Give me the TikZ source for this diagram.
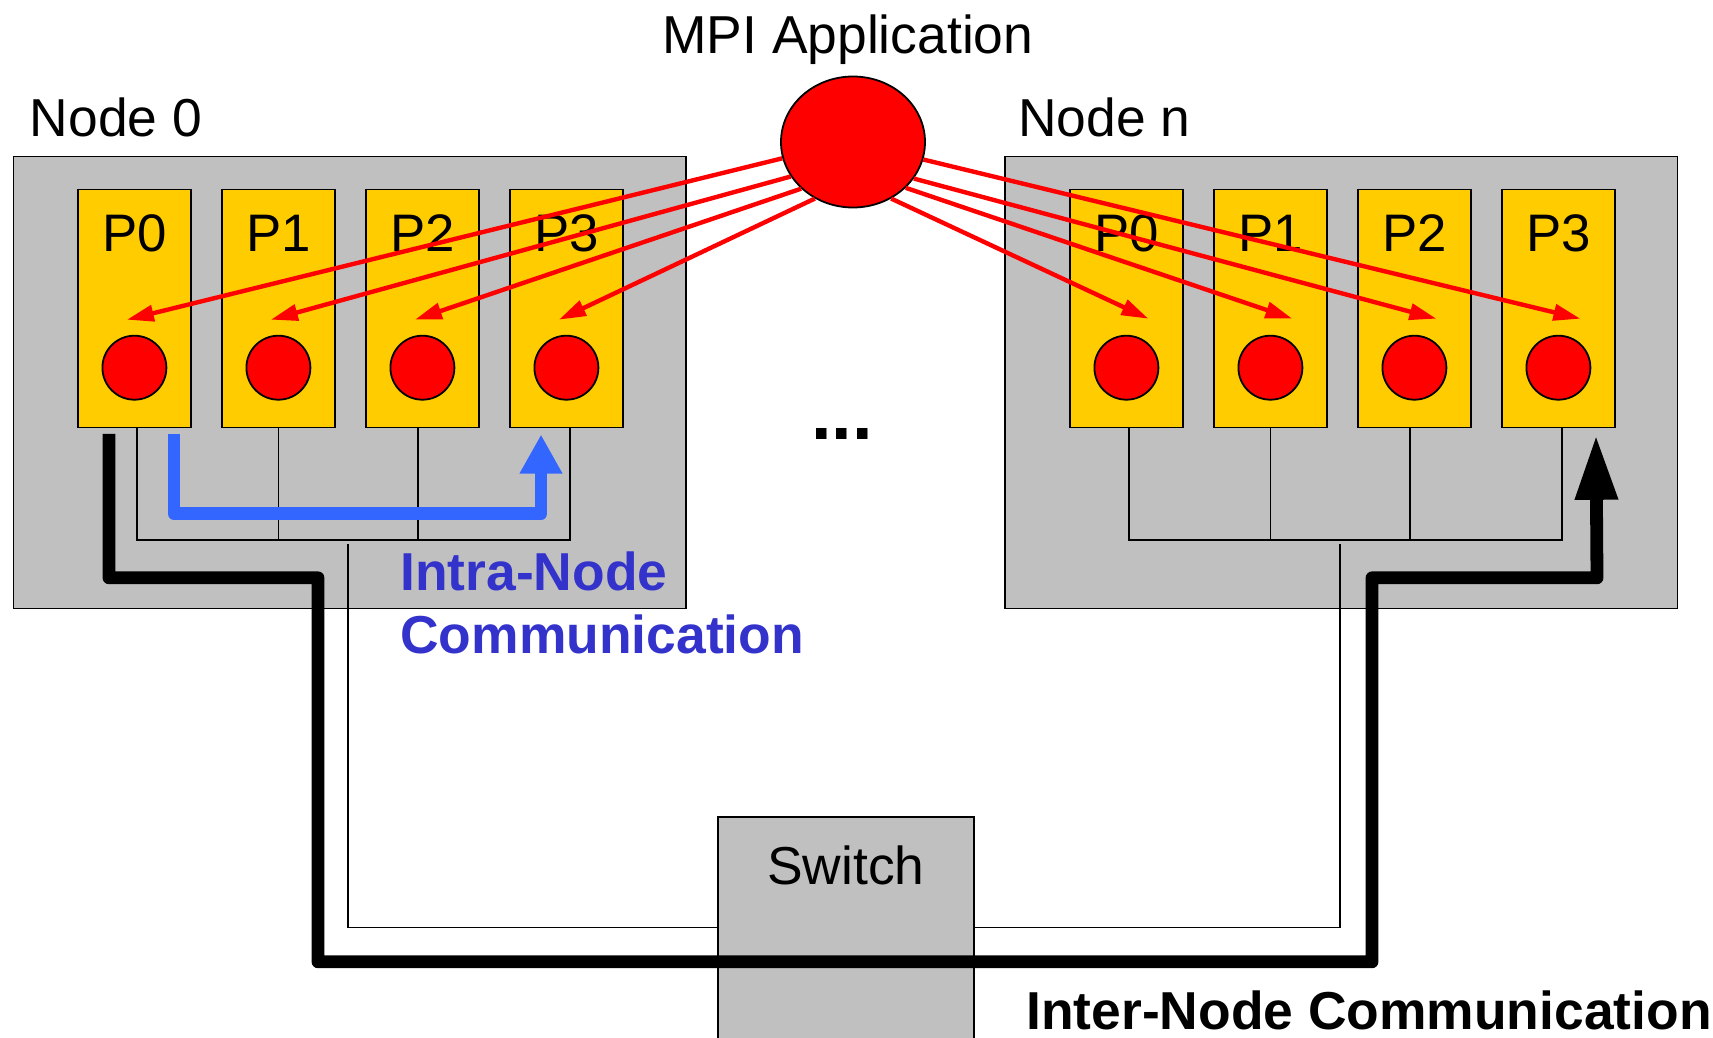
\documentclass[tikz,border=0pt]{standalone}
\usepackage{fontspec}
\setmainfont{Liberation Sans}
\usetikzlibrary{arrows.meta,shapes.geometric}
\definecolor{boxgray}{HTML}{C0C0C0}
\definecolor{coreyellow}{HTML}{FFCC00}
\definecolor{intrablue}{HTML}{3366FF}
\definecolor{labelblue}{HTML}{3333CC}

\begin{document}
\begin{tikzpicture}[x=0.5pt,y=-0.5pt,
  hostbox/.style={draw=black, fill=boxgray, line width=0.9pt, anchor=north west,
    minimum width=336.25pt, minimum height=226pt, inner sep=0pt},
  corebox/.style={draw=black, fill=coreyellow, line width=0.9pt, anchor=north west,
    minimum width=56.5pt, minimum height=119pt, inner sep=0pt},
  rank/.style={circle, draw=black, fill=red, line width=0.9pt, minimum size=32pt, inner sep=0pt},
  txt/.style={inner sep=0pt, font=\fontsize{26.7pt}{32pt}\selectfont},
  hosttxt/.style={inner sep=0pt, anchor=base west, font=\fontsize{26.7pt}{32pt}\selectfont},
  plabel/.style={inner sep=0pt, anchor=base, font=\fontsize{26.4pt}{32pt}\selectfont},
  boldtxt/.style={inner sep=0pt, anchor=base west, font=\bfseries\fontsize{26.7pt}{32pt}\selectfont},
  wire/.style={draw=black, line width=0.9pt},
  mpiarrow/.style={draw=red, line width=2.2pt, -{Triangle[length=13.5pt,width=8pt]}},
  intrapath/.style={draw=intrablue, line width=6.4pt, line join=round,
    -{Triangle[length=19.5pt,width=20pt]}},
  interpath/.style={draw=black, line width=6.4pt, line join=round,
    -{Triangle[length=32.5pt,width=20pt]}}
]
\useasboundingbox (0,0) rectangle (1713,1038);
\fill[white] (0,0) rectangle (1713,1038);

% the two hosts
\node[hostbox] (host0) at (12.5,155.5) {};
\node[hostbox] (hostn) at (1004,155.5) {};
\node[hosttxt] (host0label) at (29.5,136) {Node 0};
\node[hosttxt] (hostnlabel) at (1018,136) {Node n};

% processes inside each host
\foreach \i/\x in {0/77,1/221,2/365,3/509} {
  \node[corebox] (a\i) at (\x,188.5) {};
  \node[corebox] (b\i) at (\x+992,188.5) {};
  \path (a\i.north) ++(0,62.5) node[plabel] (a\i label) {P\i};
  \path (b\i.north) ++(0,62.5) node[plabel] (b\i label) {P\i};
  \path (a\i.north) ++(0,179.2) node[rank] (ra\i) {};
  \path (b\i.north) ++(0,179.2) node[rank] (rb\i) {};
  \coordinate (ta\i) at ([shift={(-7.5,-48)}]ra\i.center);
  \coordinate (tb\i) at ([shift={(22,-49)}]rb\i.center);
}

% switch
\node[draw=black, fill=boxgray, line width=0.9pt, anchor=north west,
  minimum width=128.3pt, minimum height=120pt, inner sep=0pt] (switch) at (716.7,816) {};
\node[txt, anchor=base] (switchlabel) at ([yshift=-34pt]switch.north) {Switch};

% shared bus inside each host
\draw[wire] ([xshift=1.25pt]a0.south) -- ++(0,111.5) -| ([xshift=1.75pt]a3.south);
\draw[wire] (a1.south) -- ++(0,111.5);
\draw[wire] ([xshift=-2.25pt]a2.south) -- ++(0,111.5);
\draw[wire] ([xshift=1.25pt]b0.south) -- ++(0,111.5) -| ([xshift=1.75pt]b3.south);
\draw[wire] (b1.south) -- ++(0,111.5);
\draw[wire] ([xshift=-2.25pt]b2.south) -- ++(0,111.5);

% links from the hosts to the switch
\coordinate (drop0) at (348,544);
\coordinate (dropn) at (1340,544);
\draw[wire] (drop0) |- ([yshift=-55.75pt]switch.north west);
\draw[wire] ([yshift=-55.75pt]switch.north east) -| (dropn);

% intra-node path P0 -> P3
\draw[intrapath] ([shift={(97,5.5)}]a0.south west) -- ++(0,80) -- ++(367,0)
  -- ([shift={(32,6.2)}]a3.south west);

% inter-node path through the switch
\draw[interpath] ([shift={(32,5.5)}]a0.south west) -- ++(0,144) -- ++(209,0)
  -- ++(0,384) -- ++(1054,0) -- ++(0,-384) -- ++(225,0)
  -- ([shift={(95,6.5)}]b3.south west);

% MPI application and its ranks
\node[ellipse, draw=black, fill=red, line width=0.9pt, minimum width=72pt,
  minimum height=65.5pt, inner sep=0pt] (mpi) at (853,142) {};
\node[txt, anchor=base west] (mpilabel) at (662,53.5) {MPI Application};

\foreach \i/\a in {0/193,1/209,2/222,3/236}
  \draw[mpiarrow] (mpi.\a) -- (ta\i);
\foreach \i/\a in {0/304,1/319,2/329,3/346}
  \draw[mpiarrow] (mpi.\a) -- (tb\i);

% labels
\node[inner sep=0pt, anchor=base, font=\bfseries\fontsize{37pt}{40pt}\selectfont] (dots) at (842,439.5) {...};
\node[boldtxt, text=labelblue] (intra1) at (400,590) {Intra-Node};
\node[boldtxt, text=labelblue] (intra2) at (400,653.3) {Communication};
\node[boldtxt] (inter) at (1026,1029) {Inter-Node Communication};
\end{tikzpicture}
\end{document}
